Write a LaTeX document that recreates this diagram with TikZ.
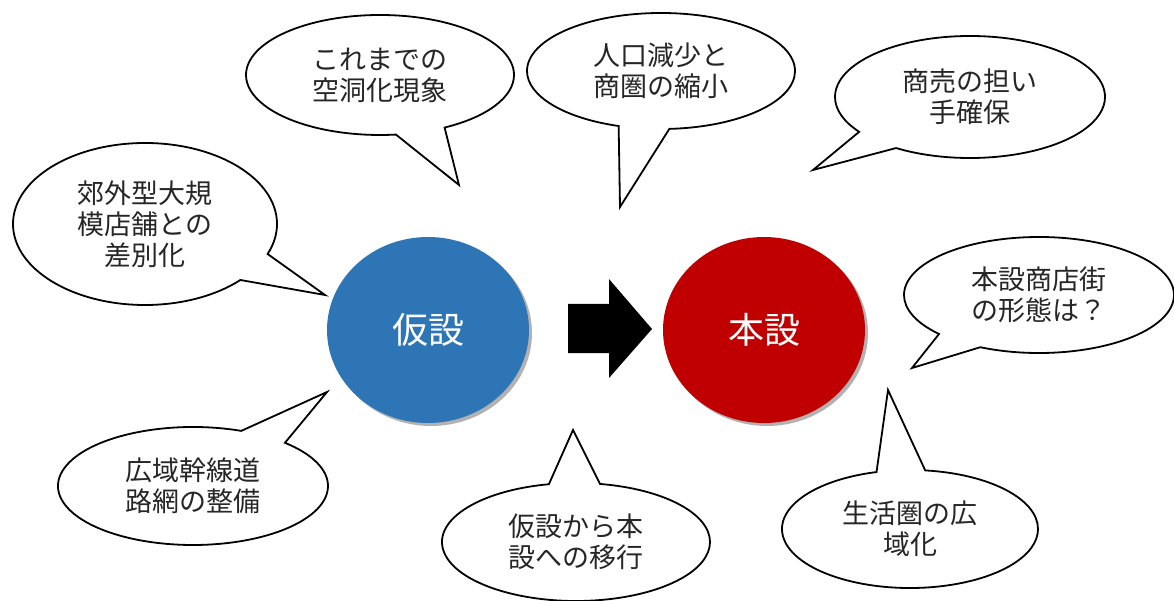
\documentclass[tikz,border=0pt]{standalone}
\usepackage{fontspec}
\newfontfamily\jp{Noto Sans CJK JP}
\usetikzlibrary{shapes.geometric,shapes.callouts,shadows}
\definecolor{kblue}{RGB}{46,117,182}
\definecolor{kred}{RGB}{192,0,0}
\tikzset{
  bubble/.style={ellipse callout, draw=black, line width=1.8pt, fill=white,
    inner sep=0pt, align=center, text=black!85,
    font=\jp\fontsize{27pt}{31pt}\selectfont,
    callout pointer arc=22, minimum width=268pt, minimum height=120pt},
  bigcircle/.style={ellipse, inner sep=0pt, text=white,
    font=\jp\fontsize{36pt}{40pt}\selectfont,
    minimum width=202pt, minimum height=186pt,
    drop shadow={shadow xshift=3pt, shadow yshift=-3pt, opacity=0.3, fill=black}},
}
\begin{document}
\begin{tikzpicture}[x=1pt,y=-1pt]
\useasboundingbox (0,0) rectangle (1174,601);
% tail tips
\coordinate (t1) at (459,185);
\coordinate (t2) at (620,207);
\coordinate (t3) at (813,170);
\coordinate (t4) at (325,295);
\coordinate (t5) at (912,368);
\coordinate (t6) at (327,392);
\coordinate (t7) at (573,430);
\coordinate (t8) at (888,390);
% circles
\node[bigcircle, fill=kblue] (kasetsu) at (428,330) {仮設};
\node[bigcircle, fill=kred] (honsetsu) at (764,330) {本設};
% arrow
\coordinate (a0) at (568,304);
\fill[black] (a0) -- (609,304) -- (609,279) -- (652,329) -- (609,378) -- (609,353) -- (568,353) -- cycle;
% bubbles
\node[bubble, callout absolute pointer={(t1)}] (b1) at (380,75) {これまでの\\空洞化現象};
\node[bubble, callout absolute pointer={(t2)}, minimum height=116pt] (b2) at (661,71) {人口減少と\\商圏の縮小};
\node[bubble, callout absolute pointer={(t3)}, minimum width=270pt, minimum height=122pt] (b3) at (970,97) {商売の担い\\手確保};
\node[bubble, callout absolute pointer={(t4)}, minimum width=264pt, minimum height=162pt] (b4) at (145,224) {郊外型大規\\模店舗との\\差別化};
\node[bubble, callout absolute pointer={(t5)}, minimum width=270pt, minimum height=116pt] (b5) at (1039,295) {本設商店街\\の形態は？};
\node[bubble, callout absolute pointer={(t6)}, minimum width=270pt, minimum height=118pt] (b6) at (193,486) {広域幹線道\\路網の整備};
\node[bubble, callout absolute pointer={(t7)}, minimum height=118pt] (b7) at (576,542) {仮設から本\\設への移行};
\node[bubble, callout absolute pointer={(t8)}, minimum width=256pt, minimum height=118pt] (b8) at (910,529) {生活圏の広\\域化};
\end{tikzpicture}
\end{document}
